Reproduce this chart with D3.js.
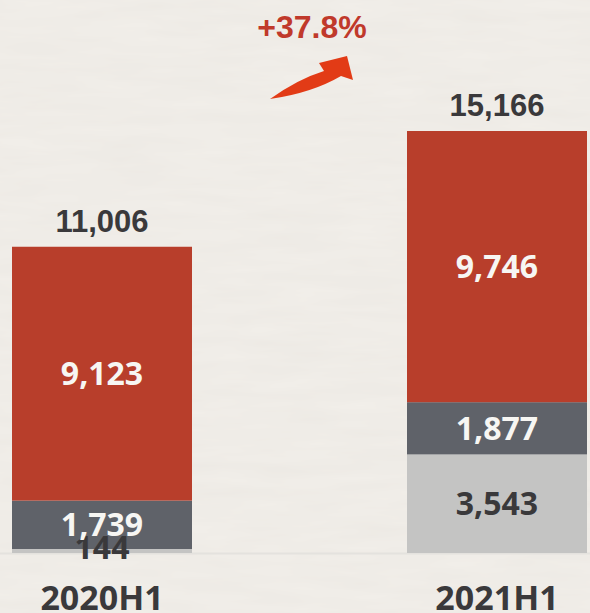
<!DOCTYPE html>
<html>
<head>
<meta charset="utf-8">
<script src="https://cdn.jsdelivr.net/npm/d3@7"></script>
<style>
  html, body { margin: 0; padding: 0; background: #f2efea; }
  svg { display: block; }
</style>
</head>
<body>
<div id="chart"></div>
<script>
// chart data
const periods = ["2020H1", "2021H1"];
const segments = ["other", "mid", "main"];
const otherValues = [144, 3543];
const midValues = [1739, 1877];
const mainValues = [9123, 9746];
const totals = [11006, 15166];
const growthLabel = "+37.8%";

const width = 590;
const height = 613;

const colors = { other: "#c4c4c3", mid: "#5f6269", main: "#b83e2b" };

const rows = periods.map((p, i) => ({
    period: p,
    other: otherValues[i],
    mid: midValues[i],
    main: mainValues[i],
    total: totals[i]
}));

const svg = d3.select("#chart")
    .append("svg")
    .attr("width", width)
    .attr("height", height);

// paper-ish background
const defs = svg.append("defs");
const filt = defs.append("filter").attr("id", "paper");
filt.append("feTurbulence").attr("type", "fractalNoise").attr("baseFrequency", "0.012 0.08").attr("numOctaves", 3).attr("seed", 4);
filt.append("feColorMatrix").attr("type", "matrix")
    .attr("values", "0 0 0 0 0.55  0 0 0 0 0.52  0 0 0 0 0.48  0 0 0 0.12 0");
svg.append("rect").attr("width", width).attr("height", height).attr("fill", "#f2efea");
svg.append("rect").attr("width", width).attr("height", height).attr("filter", "url(#paper)");

const x = d3.scaleBand()
    .domain(periods)
    .range([12, 587])
    .paddingInner(0.5443)
    .paddingOuter(0);

const y = d3.scaleLinear()
    .domain([0, d3.max(totals)])
    .range([553, 131]);

const stack = d3.stack().keys(segments)(rows);

// faint baseline
svg.append("line")
    .attr("x1", 0).attr("x2", width)
    .attr("y1", y(0) + 0.5).attr("y2", y(0) + 0.5)
    .attr("stroke", "#e4e2de").attr("stroke-width", 2);

const layer = svg.selectAll(".layer")
    .data(stack)
    .enter()
    .append("g")
    .attr("class", "layer")
    .attr("fill", d => colors[d.key]);

layer.selectAll("rect")
    .data(d => d)
    .enter()
    .append("rect")
    .attr("x", d => x(d.data.period))
    .attr("y", d => y(d[1]))
    .attr("width", x.bandwidth())
    .attr("height", d => y(d[0]) - y(d[1]));

const fmt = d3.format(",");

// segment labels
stack.forEach(s => {
    s.forEach(d => {
        const v = d.data[s.key];
        const small = (y(d[0]) - y(d[1])) < 20;
        const cy = small ? y(d[0]) - 6 : (y(d[0]) + y(d[1])) / 2;
        svg.append("text")
            .attr("x", x(d.data.period) + x.bandwidth() / 2)
            .attr("y", cy)
            .attr("dy", "0.36em")
            .attr("text-anchor", "middle")
            .attr("font-family", "'Noto Sans', sans-serif")
            .attr("font-weight", "bold")
            .attr("font-size", 32)
            .attr("fill", s.key === "other" ? "#3a393b" : "#f7f6f3")
            .text(fmt(v));
    });
});

// totals
svg.selectAll(".total")
    .data(rows)
    .enter()
    .append("text")
    .attr("class", "total")
    .attr("x", d => x(d.period) + x.bandwidth() / 2)
    .attr("y", d => y(d.total) - 15)
    .attr("text-anchor", "middle")
    .attr("font-family", "'Liberation Sans', Arial, sans-serif")
    .attr("font-weight", "bold")
    .attr("font-size", 31)
    .attr("fill", "#3a393b")
    .text(d => fmt(d.total));

// category labels
svg.selectAll(".cat")
    .data(periods)
    .enter()
    .append("text")
    .attr("class", "cat")
    .attr("x", d => x(d) + x.bandwidth() / 2)
    .attr("y", 610)
    .attr("text-anchor", "middle")
    .attr("font-family", "'Noto Sans', sans-serif")
    .attr("font-weight", "bold")
    .attr("font-size", 34)
    .attr("fill", "#3a393b")
    .text(d => d);

// growth label + arrow
svg.append("text")
    .attr("x", 312)
    .attr("y", 38)
    .attr("text-anchor", "middle")
    .attr("font-family", "'Liberation Sans', Arial, sans-serif")
    .attr("font-weight", "bold")
    .attr("font-size", 32)
    .attr("fill", "#c0392b")
    .text(growthLabel);

svg.append("path")
    .attr("d", "M270,99 Q298,79 324,71 L319,63 L347,56 L353,80 L341,76 Q312,93 270,99 Z")
    .attr("fill", "#e23b16");
</script>
</body>
</html>
